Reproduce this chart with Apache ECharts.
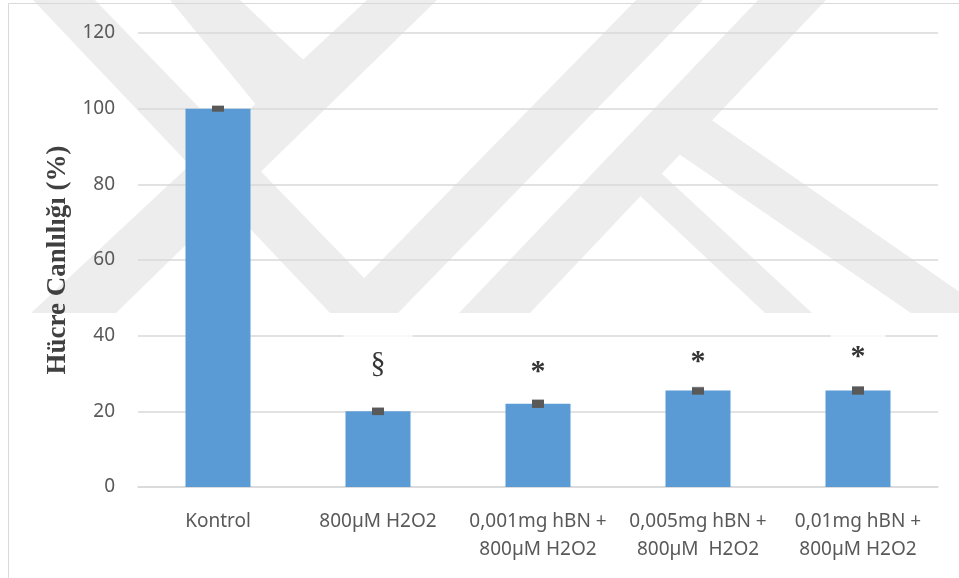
<!DOCTYPE html>
<html><head><meta charset="utf-8">
<script src="https://cdn.jsdelivr.net/npm/echarts@6/dist/echarts.min.js"></script>
<style>html,body{margin:0;padding:0;background:#fff}#c{width:959px;height:578px}</style>
</head><body><div id="c"></div>
<script>
const categories = ['Kontrol', '800µM H2O2', '0,001mg hBN +\n800µM H2O2', '0,005mg hBN +\n800µM  H2O2', '0,01mg hBN +\n800µM H2O2'];
const viability = [100, 20.0, 22.0, 25.5, 25.5];
const errors = [0.8, 1.0, 1.1, 1.1, 1.1];
const marks = ['', '§', '*', '*', '*'];
const markLevels = [null, 32.6, 30.4, 33.0, 34.3];
const yTicks = [0, 20, 40, 60, 80, 100, 120];

// light background watermark (decorative)
const wm = [
  [[33,0],[95,0],[398,313],[330,313]],
  [[170,0],[240,0],[330,85],[262,112]],
  [[367,0],[437,0],[116,313],[31,313]],
  [[636,0],[703,0],[398,313],[330,313]],
  [[758,0],[826,0],[530,313],[459,313]],
  [[700,112],[990,313],[911,313],[676,152]],
  [[636,192],[660,172],[812,313],[765,313]]
];

const chart = echarts.init(document.getElementById('c'), null, {renderer: 'canvas'});
const markData = marks.map((m, i) => m ? {value: [i, markLevels[i]], sym: m,
  label: m === '§' ? {fontSize: 30, fontWeight: 'normal', padding: [15, 27]} : {fontSize: 30, fontWeight: 'bold', padding: [10, 20]}} : null).filter(Boolean);

const graphics = [{type: 'rect', shape: {x: 8.5, y: 3.5, width: 1000, height: 1000}, style: {fill: 'none', stroke: '#d9d9d9', lineWidth: 1}, z: -10}];
wm.forEach(p => graphics.push({type: 'polygon', shape: {points: p}, style: {fill: '#ededed'}, z: -20, silent: true}));

chart.setOption({
  animation: false,
  graphic: graphics,
  grid: {left: 138, right: 21, top: 33, bottom: 91},
  xAxis: {
    type: 'category', data: categories,
    axisLine: {lineStyle: {color: '#d9d9d9', width: 1.5}},
    axisTick: {show: false},
    axisLabel: {color: '#595959', fontSize: 19, fontFamily: 'Noto Sans', lineHeight: 28, margin: 21, interval: 0}
  },
  yAxis: {
    type: 'value', min: 0, max: 120, interval: 20,
    name: 'Hücre Canlılığı (%)', nameLocation: 'middle', nameGap: 66,
    nameTextStyle: {fontFamily: 'Liberation Serif', fontWeight: 'bold', fontSize: 27, color: '#404040'},
    axisLine: {show: false}, axisTick: {show: false},
    axisLabel: {color: '#595959', fontSize: 19, fontFamily: 'Noto Sans', margin: 23,
      formatter: v => yTicks.includes(v) ? String(v) : ''},
    splitLine: {lineStyle: {color: '#d9d9d9', width: 1.5}}
  },
  series: [
    {type: 'bar', data: viability, barWidth: 65, itemStyle: {color: '#5b9bd5'}, z: 2},
    {type: 'custom', z: 5,
      data: viability.map((v, i) => [i, v, errors[i]]),
      renderItem: (params, api) => {
        const x = api.coord([api.value(0), 0])[0];
        const yt = api.coord([api.value(0), api.value(1) + api.value(2)])[1];
        const yb = api.coord([api.value(0), api.value(1) - api.value(2)])[1];
        return {type: 'rect', shape: {x: x - 6, y: yt, width: 12, height: yb - yt}, style: {fill: '#595959'}};
      }
    },
    {type: 'scatter', z: 6, symbolSize: 0,
      data: markData,
      label: {show: true, position: 'inside', formatter: p => p.data.sym,
        fontFamily: 'Liberation Serif', color: '#000', backgroundColor: '#fff'},
      labelLayout: {hideOverlap: false}
    }
  ]
});
</script></body></html>
